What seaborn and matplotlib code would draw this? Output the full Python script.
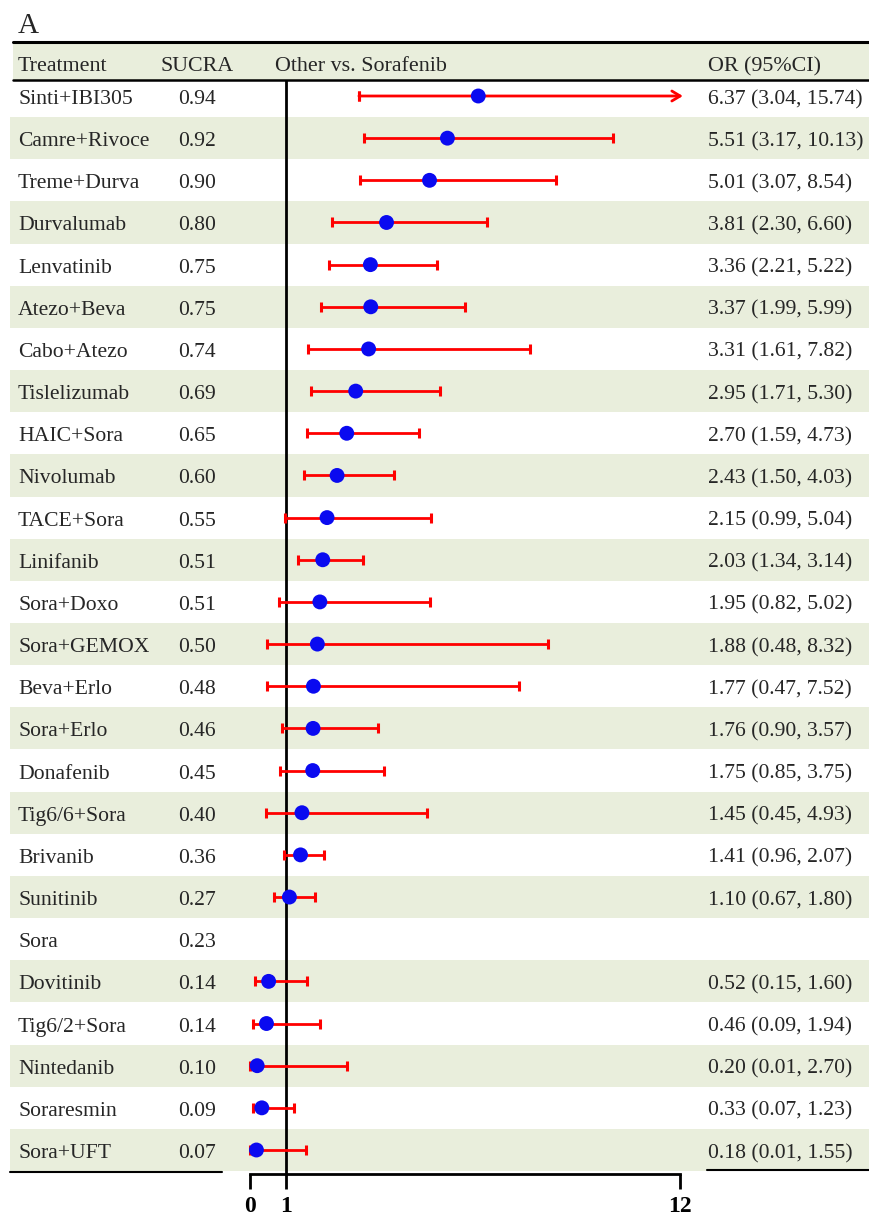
import numpy as np
import pandas as pd
import matplotlib
matplotlib.use("Agg")
import matplotlib.pyplot as plt
import seaborn as sns
from matplotlib.transforms import blended_transform_factory

# ---------------- data ----------------
treatments = ["Sinti+IBI305", "Camre+Rivoce", "Treme+Durva", "Durvalumab", "Lenvatinib",
              "Atezo+Beva", "Cabo+Atezo", "Tislelizumab", "HAIC+Sora", "Nivolumab",
              "TACE+Sora", "Linifanib", "Sora+Doxo", "Sora+GEMOX", "Beva+Erlo",
              "Sora+Erlo", "Donafenib", "Tig6/6+Sora", "Brivanib", "Sunitinib",
              "Sora", "Dovitinib", "Tig6/2+Sora", "Nintedanib", "Soraresmin", "Sora+UFT"]
sucra = [0.94, 0.92, 0.90, 0.80, 0.75, 0.75, 0.74, 0.69, 0.65, 0.60, 0.55, 0.51, 0.51,
         0.50, 0.48, 0.46, 0.45, 0.40, 0.36, 0.27, 0.23, 0.14, 0.14, 0.10, 0.09, 0.07]
or_est = [6.37, 5.51, 5.01, 3.81, 3.36, 3.37, 3.31, 2.95, 2.70, 2.43, 2.15, 2.03, 1.95,
          1.88, 1.77, 1.76, 1.75, 1.45, 1.41, 1.10, np.nan, 0.52, 0.46, 0.20, 0.33, 0.18]
ci_low = [3.04, 3.17, 3.07, 2.30, 2.21, 1.99, 1.61, 1.71, 1.59, 1.50, 0.99, 1.34, 0.82,
          0.48, 0.47, 0.90, 0.85, 0.45, 0.96, 0.67, np.nan, 0.15, 0.09, 0.01, 0.07, 0.01]
ci_high = [15.74, 10.13, 8.54, 6.60, 5.22, 5.99, 7.82, 5.30, 4.73, 4.03, 5.04, 3.14, 5.02,
           8.32, 7.52, 3.57, 3.75, 4.93, 2.07, 1.80, np.nan, 1.60, 1.94, 2.70, 1.23, 1.55]
x_ticks = [0, 1, 12]
x_max = 12
headers = ["Treatment", "SUCRA", "Other vs. Sorafenib", "OR (95%CI)"]
panel_label = "A"

# ---------------- style ----------------
sns.set_theme(style="white")
plt.rcParams['font.family'] = ['Liberation Serif', 'DejaVu Serif']

df = pd.DataFrame(dict(treatment=treatments, sucra=sucra, OR=or_est, lo=ci_low, hi=ci_high))
df["row"] = np.arange(len(df))

W, H = 869, 1217
px_top, px_bottom = 42, 1174
px_x0, px_x12 = 250, 680
scale = (px_x12 - px_x0) / x_max
row0_px, pitch = 96, 42.16

fig = plt.figure(figsize=(W / 100, H / 100), dpi=100)
ax = fig.add_axes([0, 1 - px_bottom / H, 1, (px_bottom - px_top) / H])
ax.set_xlim(-px_x0 / scale, (W - px_x0) / scale)
y_top = (px_top - row0_px) / pitch
y_bot = (px_bottom - row0_px) / pitch
ax.set_ylim(y_bot, y_top)

band = "#E9EEDC"
hdr_bottom = (80 - row0_px) / pitch
# header band
ax.axhspan(y_top, hdr_bottom, xmin=13 / W, xmax=1, color=band, lw=0, zorder=0)
ax.axhline(y_top, xmin=13 / W, xmax=1, color="black", lw=2.2, clip_on=False, zorder=4)
ax.axhline(hdr_bottom, xmin=13 / W, xmax=1, color="black", lw=1.8, zorder=4)
# row bands
for r in df["row"]:
    if r % 2 == 1:
        ax.axhspan(r - 0.5, min(r + 0.5, y_bot), xmin=10 / W, xmax=1, color=band, lw=0, zorder=0)

# bottom table lines
ax.axhline((1172 - row0_px) / pitch, xmin=10 / W, xmax=222 / W, color="black", lw=1.5, zorder=4)
ax.axhline((1170 - row0_px) / pitch, xmin=707 / W, xmax=1, color="black", lw=1.5, zorder=4)

# reference line at OR = 1
ax.vlines(1, hdr_bottom, y_bot, colors="black", lw=2, zorder=2)

# confidence intervals
cap = 3.7
ok = df["OR"].notna() & (df["hi"] <= x_max)
sub = df[ok]
ax.errorbar(sub["OR"], sub["row"], xerr=[sub["OR"] - sub["lo"], sub["hi"] - sub["OR"]],
            fmt="none", ecolor="red", elinewidth=2, capsize=cap, capthick=2.2, zorder=3)
over = df[df["OR"].notna() & (df["hi"] > x_max)]
for _, r in over.iterrows():
    ax.errorbar([r["lo"]], [r["row"]], xerr=[[0], [0]], fmt="none", ecolor="red",
                elinewidth=2, capsize=cap, capthick=2.2, zorder=3)
    ax.annotate("", xy=(x_max + 0.08, r["row"]), xytext=(r["lo"], r["row"]),
                arrowprops=dict(arrowstyle="->,head_length=0.5,head_width=0.3",
                                color="red", lw=2, shrinkA=0, shrinkB=0), zorder=3)

# point estimates
sns.scatterplot(data=df.dropna(subset=["OR"]), x="OR", y="row", color="#0A0AF0",
                s=115, edgecolor="none", linewidth=0, zorder=5, ax=ax, legend=False)

# table text
tr = blended_transform_factory(ax.transAxes, ax.transData)
fs = 15.6
off = 0.19
for _, r in df.iterrows():
    y = r["row"] + off
    ax.text(18 / W, y, r["treatment"], transform=tr, fontsize=fs, va="baseline", ha="left")
    ax.text(178 / W, y, f"{r['sucra']:.2f}", transform=tr, fontsize=fs, va="baseline", ha="left")
    if not np.isnan(r["OR"]):
        ax.text(708 / W, y, f"{r['OR']:.2f} ({r['lo']:.2f}, {r['hi']:.2f})", transform=tr,
                fontsize=fs, va="baseline", ha="left")

hdr_y = (71 - row0_px) / pitch
for xpx, h in zip([18, 160, 275, 708], headers):
    ax.text(xpx / W, hdr_y, h, transform=tr, fontsize=15.8, va="baseline", ha="left")

fig.text(18 / W, 1 - 33 / H, panel_label, fontsize=21, va="baseline", ha="left")

# axes styling
for s in ["top", "left", "right"]:
    ax.spines[s].set_visible(False)
ax.spines["bottom"].set_visible(True)
ax.spines["bottom"].set_color("black")
ax.spines["bottom"].set_linewidth(2)
ax.spines["bottom"].set_bounds(0, x_max)
ax.set_xticks(x_ticks)
ax.set_xticklabels([str(t) for t in x_ticks], fontweight="bold")
ax.tick_params(axis="x", bottom=True, direction="out", length=10.5, width=2,
               labelsize=17, pad=5.5, colors="black")
ax.set_yticks([])
ax.set_xlabel("")
ax.set_ylabel("")
ax.set_facecolor("none")
ax.grid(False)

fig.savefig("out.png", dpi=100)
